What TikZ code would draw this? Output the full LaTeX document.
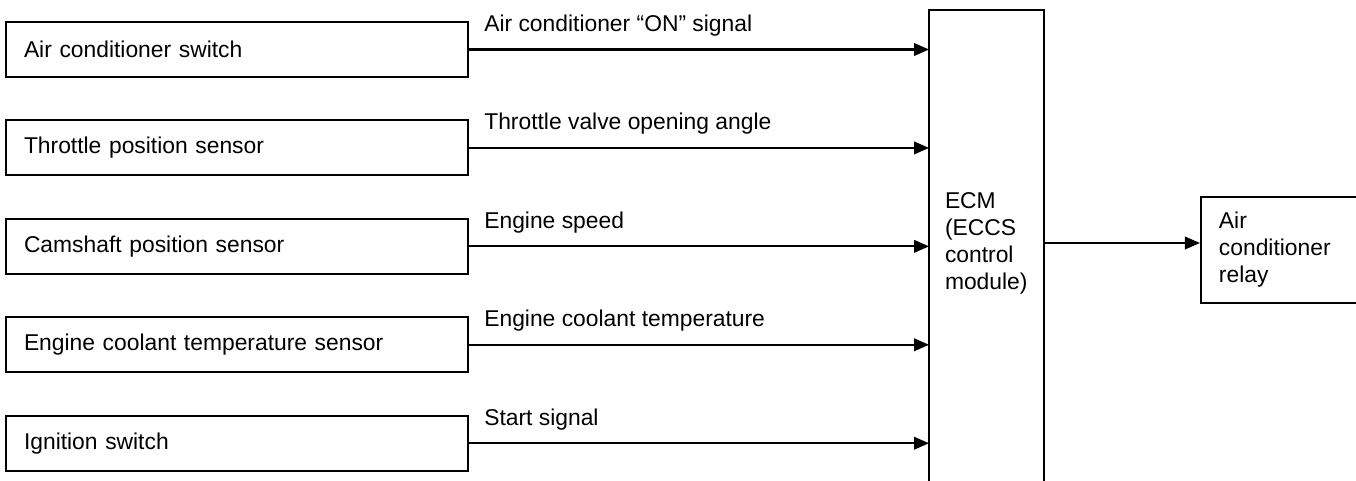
\documentclass[tikz,border=0pt]{standalone}
\usepackage{fontspec}
\setmainfont{Liberation Sans}
\usepackage{tikz}
\usetikzlibrary{arrows.meta, positioning}

\begin{document}
\begin{tikzpicture}[
    node distance=0.83cm and 3.12cm,
    box/.style={
        rectangle, draw=black, line width=1.1pt, text=black,
        font=\fontsize{13pt}{15.4pt}\selectfont, align=left, inner ysep=0pt
    },
    sensor/.style={box, minimum width=9.24cm, minimum height=1.1cm, inner xsep=0.36cm, text width=8.52cm},
    ecmbox/.style={box, draw=none, minimum width=2.26cm, minimum height=9.28cm, inner xsep=0.3cm, text width=1.66cm},
    relaybox/.style={box, minimum width=3.12cm, minimum height=2.12cm, inner xsep=0.36cm, text width=2.4cm},
    arrow/.style={-{Triangle[length=0.3cm, width=0.25cm]}, line width=1.2pt},
    signal/.style={font=\fontsize{13pt}{15.4pt}\selectfont, anchor=base west, inner sep=0pt}
]
\useasboundingbox (0,0) rectangle (27.12,-9.62);

% Input 1: A/C switch
\node[sensor] (acsw) at (4.74,-0.99) {Air conditioner switch};

% Input 2: Throttle
\node[sensor, below=of acsw] (tps) {Throttle position sensor};

% Input 3: Camshaft
\node[sensor, below=of tps] (cmps) {Camshaft position sensor};

% Input 4: Coolant
\node[sensor, below=of cmps] (ects) {Engine coolant temperature sensor};

% Input 5: Ignition
\node[sensor, below=of ects] (ign) {Ignition switch};

% ECM (open at the bottom)
\node[ecmbox] (ecm) at (19.73,-4.86) {ECM\\(ECCS\\control\\module)};
\draw[line width=1.1pt] ([yshift=-0.5cm]ecm.south west) -- (ecm.north west) -- (ecm.north east) -- ([yshift=-0.5cm]ecm.south east);

% Output: relay
\node[relaybox, right=of ecm, yshift=-0.14cm] (relay) {Air\\conditioner\\relay};

% Signals
\draw[arrow] (acsw.east) -- (acsw.east -| ecm.west);
\node[signal] (acsig) at ([xshift=0.3cm, yshift=0.36cm]acsw.east) {Air conditioner ``ON'' signal};

\draw[arrow] (tps.east) -- (tps.east -| ecm.west);
\node[signal] (tpsig) at ([xshift=0.3cm, yshift=0.36cm]tps.east) {Throttle valve opening angle};

\draw[arrow] (cmps.east) -- (cmps.east -| ecm.west);
\node[signal] (cmsig) at ([xshift=0.3cm, yshift=0.36cm]cmps.east) {Engine speed};

\draw[arrow] (ects.east) -- (ects.east -| ecm.west);
\node[signal] (ecsig) at ([xshift=0.3cm, yshift=0.36cm]ects.east) {Engine coolant temperature};

\draw[arrow] (ign.east) -- (ign.east -| ecm.west);
\node[signal] (igsig) at ([xshift=0.3cm, yshift=0.36cm]ign.east) {Start signal};

% Arrow to relay
\draw[arrow] (ecm.east) -- (ecm.east -| relay.west);

\end{tikzpicture}
\end{document}
